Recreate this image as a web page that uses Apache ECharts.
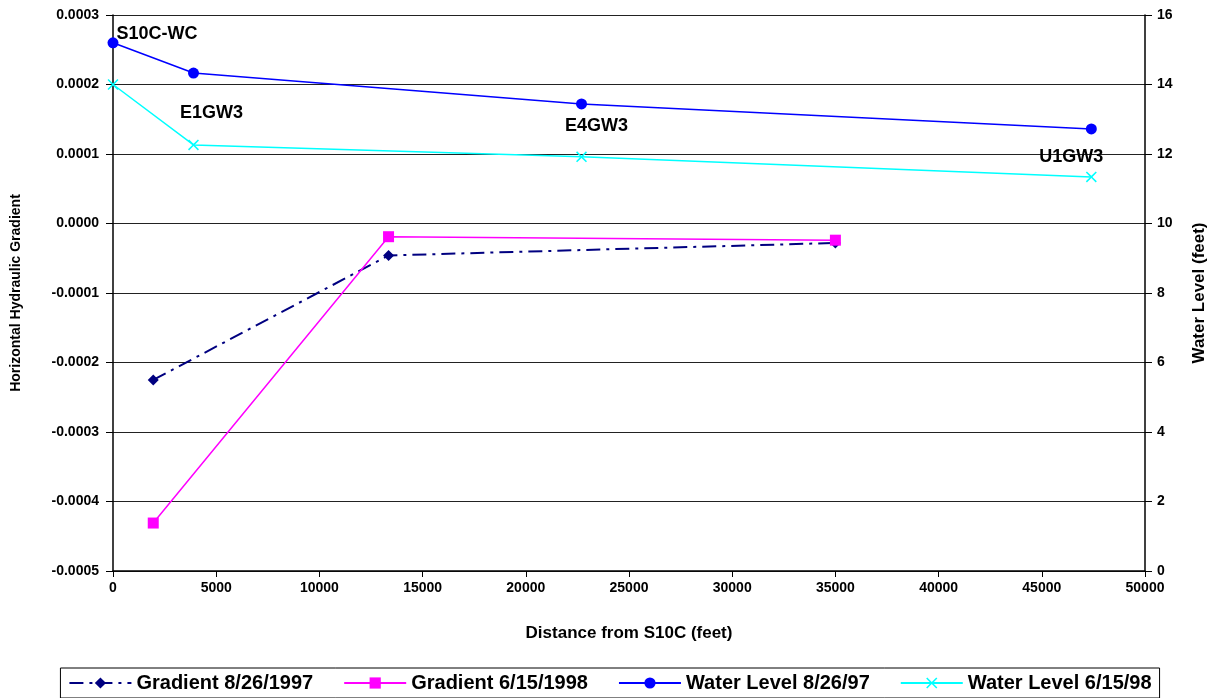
<!DOCTYPE html>
<html>
<head>
<meta charset="utf-8">
<script src="https://cdn.jsdelivr.net/npm/echarts@6/dist/echarts.min.js"></script>
<style>html,body{margin:0;padding:0;background:#fff}#c{width:1220px;height:698px}</style>
</head>
<body>
<div id="c"></div>
<script>
// Data
var grad1997X = [1950, 13350, 35000];
var grad1997Y = [-0.000225, -0.000046, -0.000028];
var grad1998X = [1950, 13350, 35000];
var grad1998Y = [-0.000431, -0.000019, -0.000024];
var wellX = [0, 3900, 22700, 47400];
var wellNames = ['S10C-WC', 'E1GW3', 'E4GW3', 'U1GW3'];
var wl1997 = [15.2, 14.33, 13.44, 12.72];
var wl1998 = [14.0, 12.26, 11.92, 11.34];
var xTicks = {min: 0, max: 50000, interval: 5000};
var leftTicks = {min: -0.0005, max: 0.0003, interval: 0.0001};
var rightTicks = {min: 0, max: 16, interval: 2};

var FONT = '"Liberation Sans", Arial, sans-serif';
var labelOffsets = [[44, -9], [18, 40], [15, 22], [-20, 28]];

function pairs(xs, ys) { return xs.map(function (x, i) { return [x, ys[i]]; }); }

var xMark = 'path://M0,1 L1,0 L5,4 L9,0 L10,1 L6,5 L10,9 L9,10 L5,6 L1,10 L0,9 L4,5 Z';

var chart = echarts.init(document.getElementById('c'), null, {renderer: 'canvas'});
chart.setOption({
  animation: false,
  backgroundColor: '#fff',
  textStyle: {fontFamily: FONT},
  grid: {left: 113, right: 75, top: 15, bottom: 127, containLabel: false},
  legend: {
    bottom: 0, left: 'center',
    borderColor: '#000', borderWidth: 1, borderRadius: 0,
    padding: [5, 8, 5, 8], itemGap: 30, itemWidth: 62, itemHeight: 14,
    textStyle: {fontFamily: FONT, fontWeight: 'bold', fontSize: 20, color: '#000'},
    data: ['Gradient 8/26/1997', 'Gradient 6/15/1998', 'Water Level 8/26/97', 'Water Level 6/15/98']
  },
  xAxis: {
    type: 'value', min: xTicks.min, max: xTicks.max, interval: xTicks.interval,
    name: 'Distance from S10C (feet)', nameLocation: 'middle', nameGap: 54,
    nameTextStyle: {fontFamily: FONT, fontWeight: 'bold', fontSize: 17, color: '#000'},
    axisLine: {show: true, onZero: false, lineStyle: {color: '#000', width: 1.5}},
    axisTick: {show: true, length: 6, lineStyle: {color: '#000'}},
    axisLabel: {fontFamily: FONT, fontWeight: 'bold', fontSize: 14, color: '#000', margin: 10,
      formatter: function (v) { return String(v); }},
    splitLine: {show: false}
  },
  yAxis: [{
    type: 'value', position: 'left', min: leftTicks.min, max: leftTicks.max, interval: leftTicks.interval,
    name: 'Horizontal Hydraulic Gradient', nameLocation: 'middle', nameGap: 90, nameRotate: 90,
    nameTextStyle: {fontFamily: FONT, fontWeight: 'bold', fontSize: 14, color: '#000'},
    axisLine: {show: true, onZero: false, lineStyle: {color: '#000', width: 1.5}},
    axisTick: {show: true, length: 7, lineStyle: {color: '#000'}},
    axisLabel: {fontFamily: FONT, fontWeight: 'bold', fontSize: 14, color: '#000', margin: 14,
      formatter: function (v) { var s = Math.abs(v) < 1e-12 ? 0 : v; return s.toFixed(4); }},
    splitLine: {show: true, lineStyle: {color: '#222', width: 1}}
  }, {
    type: 'value', position: 'right', min: rightTicks.min, max: rightTicks.max, interval: rightTicks.interval,
    name: 'Water Level (feet)', nameLocation: 'middle', nameGap: 46, nameRotate: 90,
    nameTextStyle: {fontFamily: FONT, fontWeight: 'bold', fontSize: 17, color: '#000'},
    axisLine: {show: true, onZero: false, lineStyle: {color: '#000', width: 1.5}},
    axisTick: {show: true, length: 7, lineStyle: {color: '#000'}},
    axisLabel: {fontFamily: FONT, fontWeight: 'bold', fontSize: 14, color: '#000', margin: 12},
    splitLine: {show: false}
  }],
  series: [{
    name: 'Gradient 8/26/1997', type: 'line', yAxisIndex: 0,
    data: pairs(grad1997X, grad1997Y),
    symbol: 'diamond', symbolSize: 11, showAllSymbol: true,
    lineStyle: {color: '#000080', width: 2, type: [14, 6, 3, 6]},
    itemStyle: {color: '#000080'}
  }, {
    name: 'Gradient 6/15/1998', type: 'line', yAxisIndex: 0,
    data: pairs(grad1998X, grad1998Y),
    symbol: 'rect', symbolSize: 11,
    lineStyle: {color: '#ff00ff', width: 1.5},
    itemStyle: {color: '#ff00ff'}
  }, {
    name: 'Water Level 8/26/97', type: 'line', yAxisIndex: 1,
    data: wellX.map(function (x, i) {
      return {value: [x, wl1997[i]], label: {show: true, formatter: wellNames[i], position: 'inside', offset: labelOffsets[i]}};
    }),
    symbol: 'circle', symbolSize: 11,
    lineStyle: {color: '#0000ff', width: 1.5},
    itemStyle: {color: '#0000ff'},
    label: {fontFamily: FONT, fontWeight: 'bold', fontSize: 18, color: '#000'}
  }, {
    name: 'Water Level 6/15/98', type: 'line', yAxisIndex: 1,
    data: pairs(wellX, wl1998),
    symbol: xMark, symbolSize: 11,
    lineStyle: {color: '#00ffff', width: 1.5},
    itemStyle: {color: '#00ffff'}
  }]
});
</script>
</body>
</html>
